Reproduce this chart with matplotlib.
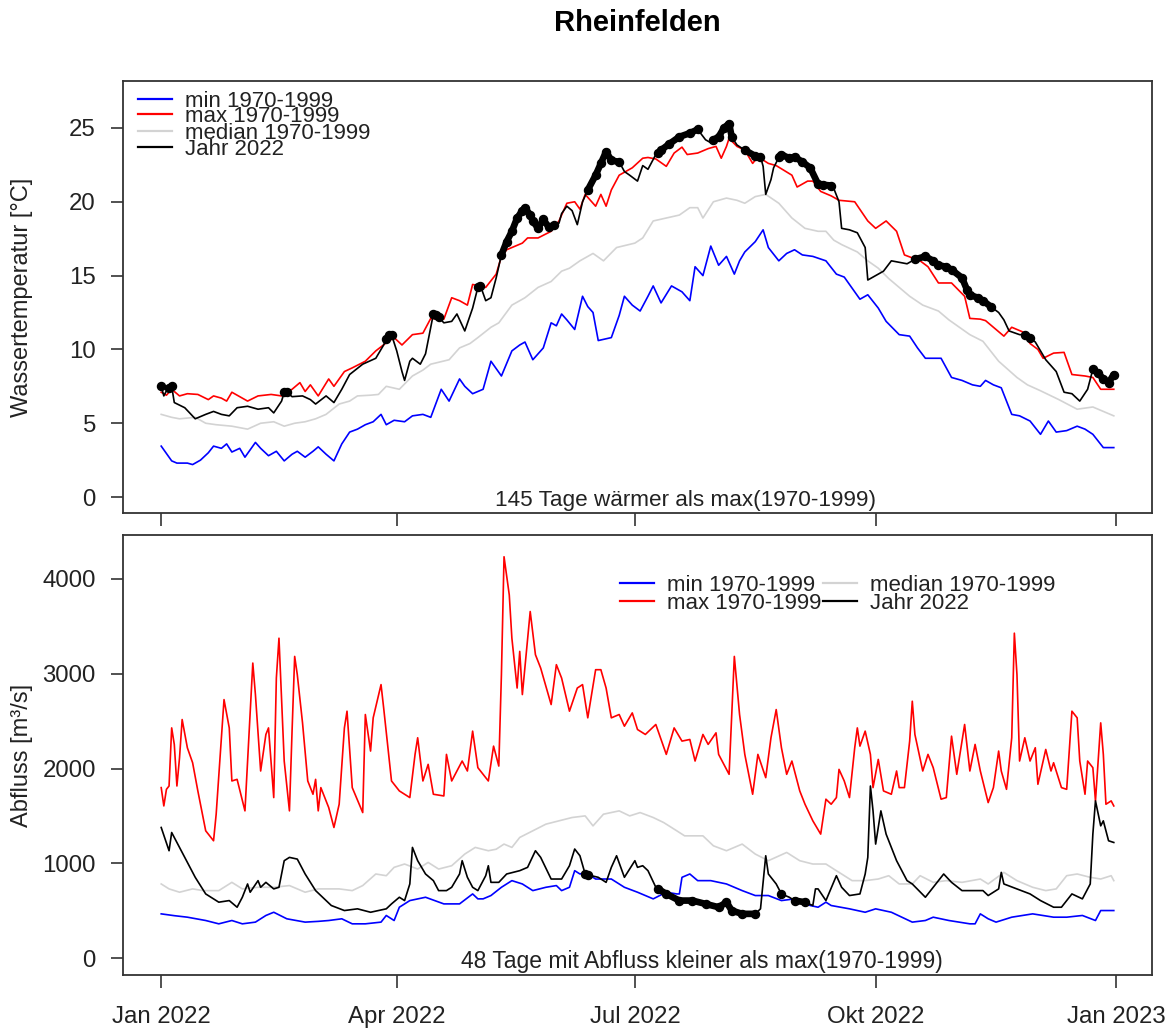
import numpy as np
import matplotlib
matplotlib.use("Agg")
import matplotlib.pyplot as plt

plt.rcParams['font.family'] = ['Liberation Sans', 'DejaVu Sans']

# ---------------- Wassertemperatur [°C], day of year 2022 ----------------
wt_min_days = [0, 4, 6, 10, 12, 15, 18, 20, 23, 25, 27, 30, 32, 34, 36, 38, 41, 44, 47, 50,
               52, 55, 58, 60, 63, 66, 69, 72, 75, 78, 81, 84, 86, 89, 93, 96, 100, 103, 107, 110,
               114, 116, 119, 123, 126, 130, 134, 137, 139, 142, 146, 149, 151, 153, 155, 158, 161, 163, 165, 167,
               172, 175, 177, 180, 183, 186, 188, 191, 195, 199, 202, 204, 207, 210, 213, 216, 219, 221, 223, 227,
               230, 232, 236, 239, 242, 245, 249, 254, 258, 261, 263, 267, 270, 274, 277, 282, 286, 289, 292, 298,
               302, 306, 310, 313, 315, 318, 321, 325, 328, 332, 336, 339, 342, 346, 350, 353, 356, 360, 364]
wt_min = [3.45, 2.45, 2.3, 2.3, 2.2, 2.5, 3.0, 3.45, 3.3, 3.6, 3.05, 3.3, 2.7, 3.2, 3.7, 3.3, 2.8, 3.1, 2.45, 2.9,
          3.1, 2.7, 3.1, 3.4, 2.9, 2.45, 3.6, 4.4, 4.6, 4.9, 5.1, 5.6, 4.9, 5.2, 5.1, 5.5, 5.6, 5.4, 7.3, 6.5,
          8.0, 7.5, 7.0, 7.3, 9.2, 8.2, 9.9, 10.3, 10.5, 9.3, 10.1, 11.8, 11.6, 12.4, 12.0, 11.35, 13.6, 12.9, 12.5, 10.6,
          10.8, 12.3, 13.6, 13.0, 12.6, 13.6, 14.3, 13.15, 14.3, 13.9, 13.3, 15.6, 15.0, 17.0, 15.7, 16.3, 15.1, 16.0, 16.6, 17.3,
          18.1, 16.9, 16.0, 16.5, 16.75, 16.4, 16.3, 16.0, 15.1, 14.9, 14.4, 13.4, 13.7, 12.8, 11.9, 11.0, 10.9, 10.1, 9.4, 9.4,
          8.1, 7.9, 7.6, 7.5, 7.9, 7.6, 7.4, 5.6, 5.5, 5.15, 4.25, 5.15, 4.4, 4.5, 4.8, 4.6, 4.25, 3.35, 3.35]

wt_max_days = [0, 2, 4, 7, 10, 14, 18, 20, 23, 25, 27, 30, 33, 37, 42, 46, 50, 53, 55, 57,
               60, 64, 66, 70, 73, 78, 82, 86, 89, 92, 96, 100, 103, 108, 111, 114, 117, 119, 124, 128,
               130, 132, 138, 140, 144, 149, 152, 155, 158, 160, 162, 166, 168, 170, 172, 175, 180, 184, 186, 189,
               193, 196, 199, 201, 205, 209, 212, 214, 216, 217, 220, 223, 226, 228, 232, 235, 241, 243, 247, 249,
               252, 256, 259, 265, 270, 273, 277, 281, 284, 290, 293, 297, 302, 307, 309, 313, 315, 320, 322, 325,
               329, 332, 335, 337, 341, 345, 348, 353, 356, 359, 364]
wt_max = [7.1, 6.9, 7.3, 6.85, 7.0, 6.95, 6.6, 6.85, 6.7, 6.5, 7.1, 6.8, 6.5, 6.85, 6.95, 6.85, 7.3, 7.75, 7.15, 7.6,
          6.85, 8.0, 7.5, 8.5, 8.75, 9.2, 9.9, 10.45, 10.8, 10.3, 11.0, 11.1, 12.1, 12.05, 13.5, 13.3, 13.0, 14.4, 14.2, 15.1,
          16.3, 16.75, 17.2, 17.55, 17.55, 18.0, 18.7, 19.9, 20.0, 19.5, 20.5, 19.7, 20.5, 19.7, 20.8, 21.8, 22.3, 22.95, 23.0, 22.9,
          22.4, 23.3, 23.7, 23.2, 23.3, 23.6, 23.75, 22.95, 23.75, 24.3, 23.75, 23.5, 22.6, 23.05, 22.6, 22.45, 21.8, 21.0, 21.4, 21.4,
          20.7, 20.4, 20.1, 20.0, 18.7, 18.2, 18.7, 18.0, 16.4, 16.0, 15.6, 14.5, 14.5, 13.6, 12.1, 12.05, 11.95, 11.2, 10.9, 11.5,
          11.2, 10.4, 10.0, 9.4, 9.75, 9.8, 8.3, 8.2, 8.1, 7.3, 7.3]

wt_med_days = [0, 4, 7, 13, 17, 21, 27, 33, 38, 43, 47, 51, 55, 59, 63, 68, 72, 75, 80, 83,
               86, 91, 96, 100, 103, 110, 114, 118, 121, 126, 129, 134, 139, 144, 149, 153, 156, 160, 165, 169,
               174, 181, 184, 188, 193, 198, 202, 205, 207, 211, 216, 220, 223, 227, 231, 236, 241, 246, 251, 254,
               257, 260, 266, 270, 274, 278, 282, 286, 291, 297, 301, 305, 309, 314, 320, 327, 331, 336, 343, 350,
               356, 360, 364]
wt_med = [5.6, 5.4, 5.3, 5.4, 5.0, 4.9, 4.8, 4.6, 5.0, 5.1, 4.8, 5.0, 5.1, 5.3, 5.6, 6.3, 6.5, 6.85, 6.9, 6.95,
          7.5, 7.3, 8.2, 8.6, 9.0, 9.3, 10.1, 10.4, 10.8, 11.5, 11.8, 13.0, 13.5, 14.2, 14.6, 15.3, 15.5, 16.0, 16.5, 16.0,
          16.9, 17.2, 17.55, 18.7, 18.9, 19.1, 19.6, 19.6, 18.9, 20.0, 20.25, 20.1, 19.9, 20.35, 20.5, 19.9, 18.9, 18.2, 18.0, 18.0,
          17.4, 17.1, 16.6, 16.0, 15.5, 14.8, 14.2, 13.6, 13.0, 12.6, 12.0, 11.5, 11.0, 10.55, 9.2, 8.1, 7.6, 7.2, 6.6, 5.95,
          6.1, 5.8, 5.5]

wt_2022_days = [0, 1, 2, 3, 4, 5, 9, 13, 17, 20, 23, 26, 29, 33, 37, 41, 43, 46, 47, 48,
                50, 54, 57, 59, 63, 66, 69, 72, 77, 82, 85, 86, 87, 88, 90, 92, 93, 95, 96, 99,
                101, 103, 104, 105, 106, 108, 111, 113, 116, 119, 121, 122, 124, 126, 128, 130, 132, 134, 136, 138,
                139, 141, 142, 144, 146, 148, 150, 152, 153, 155, 157, 159, 161, 163, 166, 168, 170, 172, 175, 177,
                179, 182, 184, 186, 189, 190, 191, 194, 198, 202, 205, 208, 210, 211, 213, 215, 217, 218, 220, 223,
                227, 229, 230, 231, 233, 234, 236, 237, 240, 242, 245, 248, 251, 253, 256, 257, 259, 260, 263, 266,
                269, 270, 272, 276, 279, 282, 285, 288, 292, 295, 297, 300, 302, 306, 308, 309, 312, 314, 317, 320,
                322, 324, 328, 330, 332, 334, 338, 342, 345, 348, 351, 354, 356, 358, 360, 362, 364]
wt_2022 = [7.5, 6.85, 7.2, 7.4, 7.5, 6.4, 6.05, 5.3, 5.6, 5.8, 5.6, 5.5, 6.05, 6.15, 5.95, 6.05, 5.7, 6.5, 7.1, 7.1,
           6.8, 6.85, 6.6, 6.3, 6.85, 6.4, 7.3, 8.3, 9.0, 9.4, 10.3, 10.7, 10.95, 11.0, 9.9, 8.5, 7.9, 9.2, 9.4, 9.0,
           9.7, 11.5, 12.4, 12.3, 12.2, 11.8, 11.9, 12.4, 11.25, 12.8, 14.2, 14.3, 13.3, 13.5, 14.85, 16.4, 17.3, 18.0, 18.9, 19.4,
           19.6, 19.1, 18.7, 18.2, 18.8, 18.3, 18.4, 18.55, 19.2, 19.7, 19.4, 18.45, 20.0, 20.8, 21.8, 22.6, 23.4, 22.8, 22.7, 22.05,
           21.8, 21.4, 22.45, 22.2, 23.2, 23.3, 23.5, 23.9, 24.4, 24.65, 24.9, 24.2, 24.0, 24.2, 24.4, 25.0, 25.3, 24.4, 23.85, 23.5,
           23.1, 23.05, 22.4, 20.5, 21.5, 22.3, 23.0, 23.2, 22.95, 23.05, 22.7, 22.3, 21.2, 21.15, 21.1, 20.9, 20.0, 18.2, 18.1, 17.9,
           16.9, 14.7, 14.9, 15.3, 16.0, 15.9, 15.8, 16.1, 16.3, 16.0, 15.7, 15.6, 15.4, 14.85, 14.0, 13.7, 13.5, 13.3, 12.9, 12.5,
           12.0, 11.25, 11.0, 11.0, 10.8, 10.5, 9.3, 8.5, 7.1, 7.0, 6.5, 7.3, 8.65, 8.4, 8.0, 7.75, 8.3]

# periods in which 2022 was warmer than max(1970-1999): 145 days
warm_spans = [(0, 0), (3, 4), (47, 48), (86, 88), (104, 106), (121, 122), (130, 150), (163, 175),
              (190, 207), (211, 218), (222, 229), (236, 256), (288, 317), (330, 333), (356, 364)]

# ---------------- Abfluss [m³/s] ----------------
q_min_days = [0, 5, 10, 17, 22, 27, 31, 36, 40, 43, 48, 55, 60, 64, 69, 73, 78, 84, 86, 89,
              91, 93, 95, 101, 108, 114, 119, 121, 123, 126, 130, 134, 138, 142, 147, 151, 153, 156, 158, 160,
              162, 166, 172, 177, 182, 188, 193, 197, 198, 199, 202, 205, 210, 216, 222, 227, 232, 237, 242, 244,
              248, 251, 254, 256, 263, 269, 273, 279, 287, 292, 295, 301, 309, 311, 313, 316, 319, 325, 333, 341,
              346, 352, 357, 359, 364]
q_min = [469, 450, 434, 399, 364, 399, 364, 382, 452, 486, 417, 382, 390, 399, 417, 364, 364, 382, 452, 399,
         539, 574, 609, 644, 574, 574, 679, 627, 627, 662, 749, 819, 784, 714, 749, 767, 714, 749, 924, 889,
         906, 836, 836, 749, 697, 627, 697, 679, 679, 854, 889, 819, 819, 784, 714, 662, 662, 609, 627, 609,
         557, 539, 592, 557, 522, 486, 522, 486, 382, 399, 434, 399, 364, 364, 469, 417, 382, 434, 469, 434,
         434, 452, 399, 504, 504]

q_max_days = [0, 1, 2, 3, 4, 5, 6, 7, 8, 10, 12, 14, 17, 20, 21, 24, 26, 27, 29, 32,
              35, 36, 38, 40, 41, 43, 44, 45, 47, 49, 50, 51, 52, 54, 56, 58, 59, 60, 61, 64,
              66, 68, 70, 71, 73, 77, 78, 80, 81, 84, 85, 88, 91, 95, 97, 98, 100, 102, 104, 108,
              109, 111, 115, 117, 119, 121, 125, 127, 129, 130, 131, 133, 134, 136, 137, 138, 141, 143, 145, 149,
              151, 153, 156, 159, 161, 163, 166, 168, 170, 172, 175, 177, 180, 182, 185, 189, 193, 196, 199, 202,
              204, 207, 209, 212, 213, 217, 219, 221, 223, 226, 228, 231, 233, 235, 237, 239, 241, 244, 246, 249,
              252, 254, 256, 258, 259, 261, 263, 265, 266, 267, 269, 271, 272, 274, 276, 279, 281, 282, 284, 286,
              287, 288, 291, 293, 295, 298, 300, 302, 304, 307, 309, 311, 313, 316, 318, 320, 321, 323, 325, 326,
              327, 328, 330, 332, 334, 335, 338, 340, 341, 344, 346, 348, 350, 351, 353, 354, 356, 357, 359, 360,
              361, 363, 364]
q_max = [1799, 1606, 1781, 1816, 2428, 2254, 1816, 2113, 2516, 2218, 2061, 1764, 1344, 1239, 1519, 2726, 2428, 1869, 1886, 1554,
         3111, 2779, 1974, 2359, 2428, 1694, 2953, 3373, 2079, 1554, 2394, 3181, 2989, 2481, 1869, 1729, 1886, 1554, 1799, 1589,
         1379, 1624, 2428, 2604, 1799, 1536, 2569, 2184, 2534, 2884, 2639, 1869, 1764, 1694, 2149, 2324, 1869, 2044, 1729, 1711,
         2149, 1869, 2079, 1974, 2394, 2009, 1869, 2236, 2026, 2989, 4231, 3829, 3373, 2848, 3234, 2779, 3654, 3199, 3058, 2674,
         3094, 2953, 2604, 2848, 2884, 2534, 3041, 3041, 2848, 2534, 2569, 2446, 2586, 2411, 2359, 2464, 2149, 2428, 2289, 2306,
         2079, 2359, 2254, 2376, 2149, 1939, 3181, 2569, 2149, 1729, 2149, 1904, 2324, 2621, 2219, 1939, 2079, 1764, 1624, 1449,
         1309, 1677, 1624, 1694, 1991, 1869, 1694, 2218, 2428, 2236, 2394, 2149, 1799, 2096, 1764, 1729, 1974, 1799, 1799, 2289,
         2709, 2359, 1974, 2149, 2009, 1677, 1694, 2341, 1939, 2464, 1974, 2254, 1974, 1641, 1799, 2184, 1974, 1781, 2324, 3426,
         2989, 2079, 2324, 2079, 2219, 1834, 2201, 1974, 2061, 1799, 1781, 2604, 2534, 2079, 1729, 2079, 2009, 1659, 2481, 2149,
         1624, 1659, 1606]

q_med_days = [0, 3, 7, 12, 16, 22, 27, 31, 37, 43, 49, 55, 60, 68, 73, 77, 82, 86, 89, 93,
              98, 102, 106, 111, 116, 120, 125, 128, 131, 134, 137, 142, 147, 152, 157, 162, 165, 169, 175, 179,
              183, 188, 192, 197, 200, 207, 211, 216, 222, 227, 232, 239, 244, 249, 254, 257, 260, 264, 269, 274,
              278, 282, 287, 290, 295, 300, 306, 313, 316, 322, 327, 333, 338, 342, 346, 350, 355, 359, 363, 364]
q_med = [784, 732, 697, 732, 714, 714, 801, 732, 749, 749, 767, 697, 732, 732, 714, 767, 889, 871, 959, 994,
         941, 1011, 941, 976, 1099, 1169, 1134, 1150, 1204, 1169, 1274, 1344, 1414, 1449, 1484, 1501, 1396, 1519, 1554, 1501,
         1536, 1484, 1431, 1344, 1291, 1291, 1186, 1134, 1204, 1099, 1029, 1116, 1029, 994, 994, 941, 889, 819, 819, 836,
         871, 784, 784, 871, 801, 819, 801, 836, 784, 906, 819, 749, 714, 732, 871, 889, 854, 836, 871, 819]

q_2022_days = [0, 3, 4, 6, 8, 13, 17, 22, 26, 29, 31, 33, 34, 37, 38, 40, 43, 45, 47, 49,
               52, 55, 59, 65, 70, 75, 80, 86, 88, 91, 93, 95, 96, 98, 101, 104, 106, 109, 111, 114,
               115, 117, 119, 121, 124, 125, 126, 129, 132, 137, 140, 143, 145, 149, 153, 156, 158, 160, 162, 163,
               167, 170, 172, 174, 177, 181, 182, 184, 186, 189, 190, 193, 198, 203, 208, 213, 216, 218, 222, 227,
               229, 231, 232, 235, 237, 240, 242, 246, 249, 250, 251, 254, 258, 260, 263, 267, 269, 270, 271, 272,
               273, 275, 277, 281, 285, 287, 292, 295, 299, 302, 306, 310, 314, 316, 320, 321, 322, 327, 332, 336,
               341, 344, 348, 352, 355, 356, 357, 359, 360, 362, 364]
q_2022 = [1379, 1134, 1326, 1221, 1116, 854, 679, 592, 609, 539, 644, 784, 697, 819, 749, 801, 732, 749, 1029, 1064,
          1046, 889, 714, 557, 504, 522, 486, 522, 574, 644, 609, 784, 1169, 1029, 889, 819, 714, 714, 749, 889,
          1029, 854, 749, 714, 871, 976, 801, 801, 889, 924, 959, 1134, 1064, 836, 836, 976, 1152, 1081, 889, 880,
          854, 801, 959, 1081, 854, 1029, 959, 976, 924, 749, 730, 679, 609, 609, 574, 539, 592, 504, 469, 469,
          522, 1081, 889, 784, 679, 644, 609, 592, 557, 732, 732, 609, 871, 749, 662, 679, 889, 1064, 1816, 1554,
          1204, 1554, 1309, 1029, 819, 784, 644, 749, 889, 801, 714, 714, 714, 662, 732, 906, 784, 732, 679, 609,
          539, 539, 679, 627, 784, 1309, 1659, 1396, 1449, 1239, 1221]

# periods with discharge below min(1970-1999): 48 days
low_spans = [(162, 163), (190, 227), (237, 237), (242, 248)]

month_ticks = [0, 90, 181, 273, 365]
month_labels = ["Jan 2022", "Apr 2022", "Jul 2022", "Okt 2022", "Jan 2023"]
legend_labels = ["min 1970-1999", "max 1970-1999", "median 1970-1999", "Jahr 2022"]
colors = ["#0000FF", "#FF0000", "#D3D3D3", "#000000"]

W, H = 1173, 1033
fig = plt.figure(figsize=(W / 100, H / 100), dpi=100)
ax1 = fig.add_axes([123 / W, 1 - 513 / H, 1029 / W, 432 / H])
ax2 = fig.add_axes([123 / W, 1 - 975 / H, 1029 / W, 440 / H])

LW = 1.2
TXT = "#222222"


def highlight(ax, days, vals, spans):
    d = np.asarray(days)
    v = np.asarray(vals)
    for a, b in spans:
        m = (d >= a) & (d <= b)
        ax.plot(d[m], v[m], color="black", lw=4.8, marker="o", ms=5.8,
                solid_capstyle="round", solid_joinstyle="round", zorder=5)


def style(ax, ylim, yticks, show_xlabels):
    ax.set_xlim(-14.6, 378.6)
    ax.set_ylim(*ylim)
    ax.set_yticks(yticks)
    ax.set_yticklabels([str(t) for t in yticks], fontsize=17.3)
    ax.set_xticks(month_ticks)
    if show_xlabels:
        ax.set_xticklabels(month_labels, fontsize=17.3)
    else:
        ax.set_xticklabels([])
    ax.tick_params(axis="y", direction="out", length=9, width=1.1, pad=10.5, color=TXT, labelcolor=TXT)
    ax.tick_params(axis="x", direction="out", length=9.5, width=1.1, pad=12.5, color=TXT, labelcolor=TXT)
    for s in ax.spines.values():
        s.set_linewidth(1.3)
        s.set_color("#333333")


# ---- upper panel: water temperature ----
ax1.plot(wt_min_days, wt_min, color=colors[0], lw=LW)
ax1.plot(wt_max_days, wt_max, color=colors[1], lw=LW)
ax1.plot(wt_med_days, wt_med, color=colors[2], lw=LW)
ax1.plot(wt_2022_days, wt_2022, color=colors[3], lw=LW)
highlight(ax1, wt_2022_days, wt_2022, warm_spans)
style(ax1, (-1.08, 28.18), [0, 5, 10, 15, 20, 25], False)
ax1.set_ylabel("Wassertemperatur [°C]", fontsize=17, color=TXT)
ax1.yaxis.set_label_coords(-0.087, 0.5)
warm_days = sum(b - a + 1 for a, b in warm_spans)
ax1.text(200.5, -0.6, f"{warm_days} Tage wärmer als max(1970-1999)", ha="center", va="baseline",
         fontsize=16.2, color=TXT)

rows = [0.958, 0.924, 0.884, 0.847]
for lab, c, y in zip(legend_labels, colors, rows):
    ax1.plot([0.0146, 0.0476], [y, y], color=c, lw=1.6, transform=ax1.transAxes)
    ax1.text(0.0603, y - 0.006, lab, transform=ax1.transAxes, ha="left", va="center",
             fontsize=16, color=TXT)

# ---- lower panel: discharge ----
ax2.plot(q_min_days, q_min, color=colors[0], lw=LW)
ax2.plot(q_max_days, q_max, color=colors[1], lw=LW)
ax2.plot(q_med_days, q_med, color=colors[2], lw=LW)
ax2.plot(q_2022_days, q_2022, color=colors[3], lw=LW)
highlight(ax2, q_2022_days, q_2022, low_spans)
style(ax2, (-175, 4460), [0, 1000, 2000, 3000, 4000], True)
ax2.set_ylabel("Abfluss [m³/s]", fontsize=17, color=TXT)
ax2.yaxis.set_label_coords(-0.087, 0.5)
low_days = sum(b - a + 1 for a, b in low_spans)
ax2.text(206.6, -100, f"{low_days} Tage mit Abfluss kleiner als max(1970-1999)", ha="center",
         va="baseline", fontsize=16.5, color=TXT)

leg_pos = [(0.4830, 0.891), (0.4830, 0.850), (0.6803, 0.891), (0.6803, 0.850)]
for lab, c, (x0, y) in zip(legend_labels, colors, leg_pos):
    ax2.plot([x0, x0 + 0.033], [y, y], color=c, lw=1.6, transform=ax2.transAxes)
    ax2.text(x0 + 0.0457, y - 0.006, lab, transform=ax2.transAxes, ha="left", va="center",
             fontsize=16, color=TXT)

fig.text(637.5 / W, 1 - 23 / H, "Rheinfelden", ha="center", va="center", fontsize=21,
         fontweight="bold", color="black")

fig.savefig("out.png", dpi=100)
